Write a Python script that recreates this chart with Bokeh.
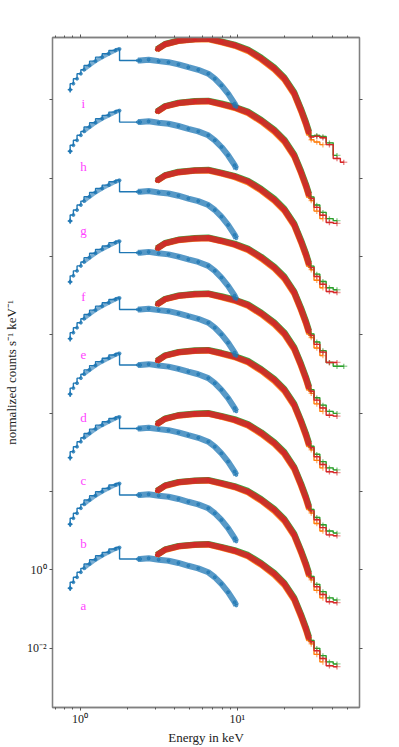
from bokeh.plotting import figure
from bokeh.models import LogAxis, FixedTicker, Range1d, CustomJSTickFormatter
from bokeh.embed import file_html
from bokeh.resources import INLINE
from bokeh.core.properties import value

# ---------------- data ----------------
spec_names = ["a", "b", "c", "d", "e", "f", "g", "h", "i"]
# display normalisation factors applied to each spectrum (bottom -> top)
soft_scale = [1.0, 4.3e1, 2.15e3, 9.0e4, 2.34e6, 6.6e7, 2.36e9, 1.42e11, 5.3e12]
hard_scale = [1.0, 4.3e1, 2.19e3, 8.95e4, 2.48e6, 6.6e7, 3.55e9, 2.06e11, 7.96e12]
# label positions (normalized counts) for a..i
label_E = [1.05] * 9
label_F = [0.121, 4.86, 195.0, 7.8e3, 3.1e5, 9.4e6, 4.5e8, 2.0e10, 8.2e11]

# soft band (blue), template spectrum
blue_E = [0.865, 0.907, 0.957, 1.012, 1.060, 1.150, 1.255, 1.383, 1.525, 1.679, 1.783,
          2.33, 2.41, 2.73, 3.16, 3.65, 4.22, 4.88, 5.64, 6.53, 7.19, 7.92, 8.73, 9.61, 9.85]
blue_F = [0.342, 0.487, 0.652, 0.874, 1.10, 1.42, 1.83, 2.31, 2.82, 3.42, 3.74,
          1.90, 1.90, 1.99, 1.83, 1.72, 1.51, 1.28, 1.10, 0.874, 0.652, 0.44, 0.271, 0.151, 0.124]
blue_first_lo = 0.835
blue_first_hi = 0.895

# hard band, template spectrum (red, green, orange)
hard_E = [3.08, 3.47, 4.22, 5.37, 6.53, 7.92, 9.61, 11.7, 14.2, 17.2, 19.9, 23.0, 25.4, 27.3, 28.6]
red_F = [2.41, 3.29, 4.01, 4.40, 4.51, 3.78, 3.10, 2.31, 1.42, 0.79, 0.44, 0.183, 0.069, 0.0315, 0.0175]
green_F = [2.45, 3.35, 4.10, 4.50, 4.62, 3.90, 3.22, 2.42, 1.50, 0.84, 0.47, 0.196, 0.075, 0.0345, 0.0192]
orange_F = [2.38, 3.24, 3.95, 4.33, 4.42, 3.68, 3.00, 2.20, 1.34, 0.74, 0.41, 0.170, 0.064, 0.0290, 0.0160]

# binned high-energy tail (bin centres and edges)
tail_E = [29.5, 32.0, 35.0, 38.5, 43.0, 47.5]
tail_lo = [28.3, 30.8, 33.6, 36.8, 41.0, 45.3]
tail_hi = [30.8, 33.6, 36.8, 41.0, 45.3, 50.0]
red_tail = [
    [0.0147, 0.0087, 0.0055, 0.0036, 0.0034],
    [0.0147, 0.0087, 0.0055, 0.0036, 0.0034],
    [0.0147, 0.0087, 0.0055, 0.0036, 0.0034],
    [0.0147, 0.0087, 0.0055, 0.0036, 0.0034],
    [0.0147, 0.0087, 0.0055, 0.0036, 0.0034],
    [0.0147, 0.0087, 0.0055, 0.0030, 0.0030],
    [0.0147, 0.0087, 0.0055, 0.0036, 0.0034],
    [0.0147, 0.0087, 0.0055, 0.0036, 0.0034],
    [0.0141, 0.0146, 0.0135, 0.0090, 0.0040, 0.0032],
]
green_tail = [
    [0.0160, 0.0100, 0.0065, 0.0045, 0.0040],
    [0.0160, 0.0100, 0.0065, 0.0045, 0.0040],
    [0.0160, 0.0100, 0.0065, 0.0045, 0.0040],
    [0.0160, 0.0100, 0.0065, 0.0045, 0.0040],
    [0.0160, 0.0100, 0.0065, 0.0045, 0.0040],
    [0.0160, 0.0100, 0.0060, 0.0030, 0.0024, 0.0024],
    [0.0160, 0.0100, 0.0065, 0.0045, 0.0040],
    [0.0160, 0.0100, 0.0065, 0.0045, 0.0040],
    [0.0150, 0.0155, 0.0145, 0.0100, 0.0048],
]
orange_tail = [
    [0.0130, 0.0070, 0.0045],
    [0.0130, 0.0070, 0.0045],
    [0.0130, 0.0070, 0.0045],
    [0.0130, 0.0070, 0.0045],
    [0.0130, 0.0070, 0.0045],
    [0.0130, 0.0070, 0.0045],
    [0.0130, 0.0070, 0.0045],
    [0.0130, 0.0070, 0.0045],
    [0.0120, 0.0105, 0.0090],
]

x_ticks = [1, 10]
x_minor = [0.7, 0.8, 0.9, 2, 3, 4, 5, 6, 7, 8, 9, 20, 30, 40, 50]
y_ticks = [1e-2, 1e0, 1e2, 1e4, 1e6, 1e8, 1e10, 1e12]

BLUE, ORANGE, GREEN, RED = "#1f77b4", "#ff7f0e", "#2ca02c", "#d62728"
SERIF = "Liberation Serif"
AXC = "#808080"

# ---------------- figure ----------------
p = figure(width=399, height=747, x_axis_type="log", y_axis_type="log",
           x_range=Range1d(0.668, 59.8), y_range=Range1d(10 ** -3.51, 10 ** 13.59),
           output_backend="svg", toolbar_location=None,
           min_border_left=50, min_border_right=40, min_border_top=37, min_border_bottom=38)
p.grid.visible = False
p.outline_line_color = AXC
p.outline_line_width = 1.3

for k in range(len(spec_names)):
    s = soft_scale[k]
    h = hard_scale[k]
    bF = [v * s for v in blue_F]
    # soft band
    p.step(blue_E[:12], bF[:12], mode="before", line_color=BLUE, line_width=1.4)
    p.line(blue_E[11:], bF[11:], line_color=BLUE, line_width=6, line_alpha=0.75)
    p.line(blue_E[4:11], bF[4:11], line_color=BLUE, line_width=4, line_alpha=0.6)
    p.scatter(blue_E, bF, size=3, color=BLUE, alpha=0.7)
    p.segment(x0=[blue_first_lo], y0=[bF[0]], x1=[blue_first_hi], y1=[bF[0]],
              line_color=BLUE, line_width=1.3)
    p.segment(x0=[blue_E[0]], y0=[bF[0] * 0.85], x1=[blue_E[0]], y1=[bF[0] * 1.15],
              line_color=BLUE, line_width=1.3)
    # hard band dense part
    for F, col in ((orange_F, ORANGE), (green_F, GREEN), (red_F, RED)):
        yy = [v * h for v in F]
        p.line(hard_E, yy, line_color=col, line_width=6, line_alpha=0.9)
        p.scatter(hard_E, yy, size=3, color=col, alpha=0.9)
    # binned tail
    for T, col in ((orange_tail, ORANGE), (green_tail, GREEN), (red_tail, RED)):
        vals = T[k]
        n = len(vals)
        xs = [hard_E[-1]] + tail_E[:n]
        ys = [red_F[-1] * h] + [v * h for v in vals]
        p.step(xs, ys, mode="center", line_color=col, line_width=1.4)
        p.segment(x0=tail_lo[:n], y0=[v * h for v in vals],
                  x1=tail_hi[:n], y1=[v * h for v in vals],
                  line_color=col, line_width=1.3, line_alpha=0.45)
        p.segment(x0=tail_E[:n], y0=[v * h * 0.85 for v in vals],
                  x1=tail_E[:n], y1=[v * h * 1.15 for v in vals],
                  line_color=col, line_width=1.3, line_alpha=0.6)

p.text(x=label_E, y=label_F, text=spec_names, text_color="#ff44ff",
       text_font=value(SERIF), text_font_size="13px",
       text_align="center", text_baseline="middle")

# ---------------- axes ----------------
xfmt = CustomJSTickFormatter(code="""
if (Math.abs(tick - 1) < 1e-9) return '10\u2070';
if (Math.abs(tick - 10) < 1e-9) return '10\u00b9';
return ' ';""")
yfmt = CustomJSTickFormatter(code="""
if (Math.abs(tick - 1) < 1e-9) return '10\u2070';
if (Math.abs(tick - 0.01) < 1e-12) return '10\u207b\u00b2';
return ' ';""")

bottom = p.below[0]
left = p.left[0]
bottom.ticker = FixedTicker(ticks=x_ticks, minor_ticks=x_minor)
bottom.formatter = xfmt
left.ticker = FixedTicker(ticks=y_ticks, minor_ticks=[])
left.formatter = yfmt

top = LogAxis(ticker=FixedTicker(ticks=x_ticks, minor_ticks=x_minor))
right = LogAxis(ticker=FixedTicker(ticks=y_ticks, minor_ticks=[]))
top.major_label_text_color = None
right.major_label_text_color = None
top.major_label_text_font_size = "1px"
right.major_label_text_font_size = "1px"
top.major_label_standoff = 0
right.major_label_standoff = 0
p.add_layout(top, "above")
p.add_layout(right, "right")

for ax in (bottom, left, top, right):
    ax.axis_line_color = AXC
    ax.axis_line_width = 1.3
    ax.major_tick_line_color = "#555555"
    ax.minor_tick_line_color = "#555555"
    ax.major_tick_out = 3
    ax.major_tick_in = 0
    ax.minor_tick_out = 2
    ax.minor_tick_in = 0

for ax in (bottom, left):
    ax.major_label_text_font = SERIF
    ax.major_label_text_color = "#222222"
    ax.major_label_text_font_size = "12px"
    ax.axis_label_text_font = SERIF
    ax.axis_label_text_font_style = "normal"
    ax.axis_label_text_color = "#222222"
    ax.axis_label_text_font_size = "13px"

bottom.axis_label = "Energy in keV"
left.axis_label = "normalized counts s\u207b\u00b9 keV\u207b\u00b9"
bottom.major_label_standoff = 1
left.major_label_standoff = 3
bottom.axis_label_standoff = 1
left.axis_label_standoff = 5

open("out.html", "w").write(file_html(p, INLINE))
